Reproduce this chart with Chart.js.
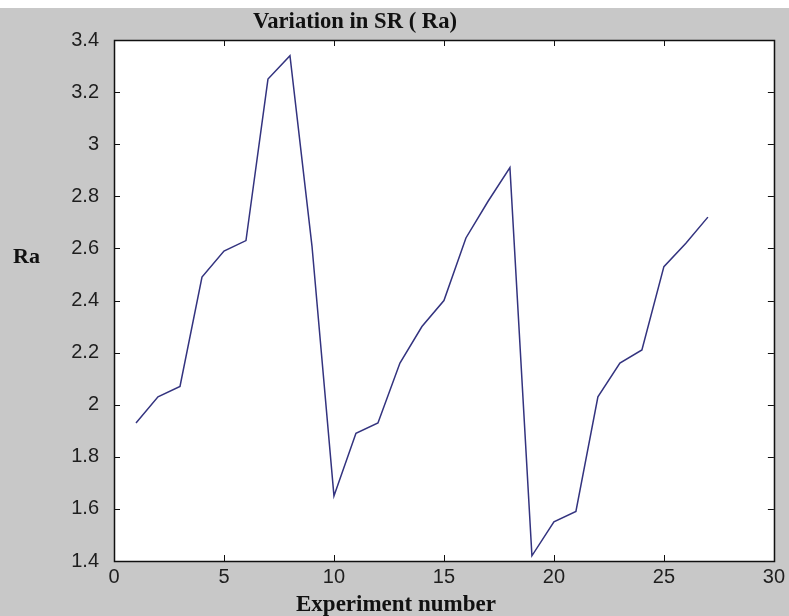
<!DOCTYPE html>
<html>
<head>
<meta charset="utf-8">
<script src="https://cdn.jsdelivr.net/npm/chart.js@4.4.1/dist/chart.umd.min.js"></script>
<style>
  html, body { margin: 0; padding: 0; background: #c8c8c8; }
  #wrap { width: 789px; height: 616px; position: relative; }
</style>
</head>
<body>
<div id="wrap"><canvas id="c" width="789" height="616"></canvas></div>
<script>
// ---- data ----
const experiments = [1, 2, 3, 4, 5, 6, 7, 8, 9, 10, 11, 12, 13, 14, 15, 16, 17, 18, 19, 20, 21, 22, 23, 24, 25, 26, 27];
const raValues = [1.93, 2.03, 2.07, 2.49, 2.59, 2.63, 3.25, 3.34, 2.61, 1.65, 1.89, 1.93, 2.16, 2.30, 2.40, 2.64, 2.78, 2.91, 1.42, 1.55, 1.59, 2.03, 2.16, 2.21, 2.53, 2.62, 2.72];
const xTickValues = [0, 5, 10, 15, 20, 25, 30];
const xTickLabels = ['0', '5', '10', '15', '20', '25', '30'];
const yTickValues = [1.4, 1.6, 1.8, 2.0, 2.2, 2.4, 2.6, 2.8, 3.0, 3.2, 3.4];
const yTickLabels = ['1.4', '1.6', '1.8', '2', '2.2', '2.4', '2.6', '2.8', '3', '3.2', '3.4'];
const titleText = 'Variation in SR ( Ra)';
const xTitleText = 'Experiment number';
const yTitleText = 'Ra';

const points = experiments.map((x, i) => ({ x: x, y: raValues[i] }));

const tickFont = { family: '"Liberation Sans", Arial, sans-serif', size: 20 };

function drawStretched(ctx, text, font, x, y, targetWidth) {
  ctx.save();
  ctx.font = font;
  ctx.fillStyle = '#111';
  ctx.textBaseline = 'alphabetic';
  ctx.textAlign = 'left';
  const w = ctx.measureText(text).width;
  const sx = targetWidth / w;
  ctx.translate(x, y);
  ctx.scale(sx, 1);
  ctx.fillText(text, 0, 0);
  ctx.restore();
}

const framePlugin = {
  id: 'frame',
  beforeDraw(chart) {
    const ctx = chart.ctx;
    const a = chart.chartArea;
    ctx.save();
    ctx.fillStyle = '#c8c8c8';
    ctx.fillRect(0, 0, chart.width, chart.height);
    ctx.fillStyle = '#ffffff';
    ctx.fillRect(0, 0, chart.width, 8);
    ctx.fillRect(a.left, a.top, a.right - a.left, a.bottom - a.top);
    ctx.restore();
  },
  afterDraw(chart) {
    const ctx = chart.ctx;
    const a = chart.chartArea;
    const xs = chart.scales.x, ys = chart.scales.y;
    const tl = 6;
    ctx.save();
    ctx.strokeStyle = '#111';
    ctx.lineWidth = 1;
    ctx.beginPath();
    xTickValues.forEach(v => {
      const px = Math.round(xs.getPixelForValue(v)) + 0.5;
      ctx.moveTo(px, a.bottom); ctx.lineTo(px, a.bottom - tl);
      ctx.moveTo(px, a.top); ctx.lineTo(px, a.top + tl);
    });
    yTickValues.forEach(v => {
      const py = Math.round(ys.getPixelForValue(v)) + 0.5;
      ctx.moveTo(a.left, py); ctx.lineTo(a.left + tl, py);
      ctx.moveTo(a.right, py); ctx.lineTo(a.right - tl, py);
    });
    ctx.stroke();
    ctx.lineWidth = 1.5;
    ctx.strokeRect(Math.round(a.left) + 0.5, Math.round(a.top) + 0.5, Math.round(a.right - a.left), Math.round(a.bottom - a.top));
    ctx.restore();

    drawStretched(ctx, titleText, 'bold 24px "Liberation Serif", "Times New Roman", serif', 253, 28, 204);
    drawStretched(ctx, xTitleText, 'bold 24px "Liberation Serif", "Times New Roman", serif', 296, 611, 200);
    drawStretched(ctx, yTitleText, 'bold 22px "Liberation Serif", "Times New Roman", serif', 13, 263, 27);
  }
};

new Chart(document.getElementById('c'), {
  type: 'line',
  data: {
    datasets: [{
      data: points,
      borderColor: '#33337f',
      borderWidth: 1.5,
      pointRadius: 0,
      tension: 0,
      fill: false
    }]
  },
  options: {
    responsive: false,
    animation: false,
    devicePixelRatio: 1,
    layout: { padding: { left: 0, right: 14, top: 40, bottom: 0 } },
    plugins: {
      legend: { display: false },
      title: { display: false },
      tooltip: { enabled: false }
    },
    scales: {
      x: {
        type: 'linear',
        min: 0, max: 30,
        afterBuildTicks: s => { s.ticks = xTickValues.map(v => ({ value: v })); },
        afterFit: s => { s.height = 55; },
        grid: { display: false, drawTicks: false },
        border: { display: false },
        ticks: {
          padding: 4,
          color: '#1e1e1e',
          font: tickFont,
          maxRotation: 0,
          autoSkip: false,
          callback: (v) => { const i = xTickValues.indexOf(v); return i >= 0 ? xTickLabels[i] : ''; }
        }
      },
      y: {
        type: 'linear',
        min: 1.4, max: 3.4,
        afterBuildTicks: s => { s.ticks = yTickValues.map(v => ({ value: v })); },
        afterFit: s => { s.width = 114; },
        grid: { display: false, drawTicks: false },
        border: { display: false },
        ticks: {
          padding: 15,
          color: '#1e1e1e',
          font: tickFont,
          autoSkip: false,
          callback: (v) => {
            const i = yTickValues.findIndex(t => Math.abs(t - v) < 1e-9);
            return i >= 0 ? yTickLabels[i] : '';
          }
        }
      }
    }
  },
  plugins: [framePlugin]
});
</script>
</body>
</html>
